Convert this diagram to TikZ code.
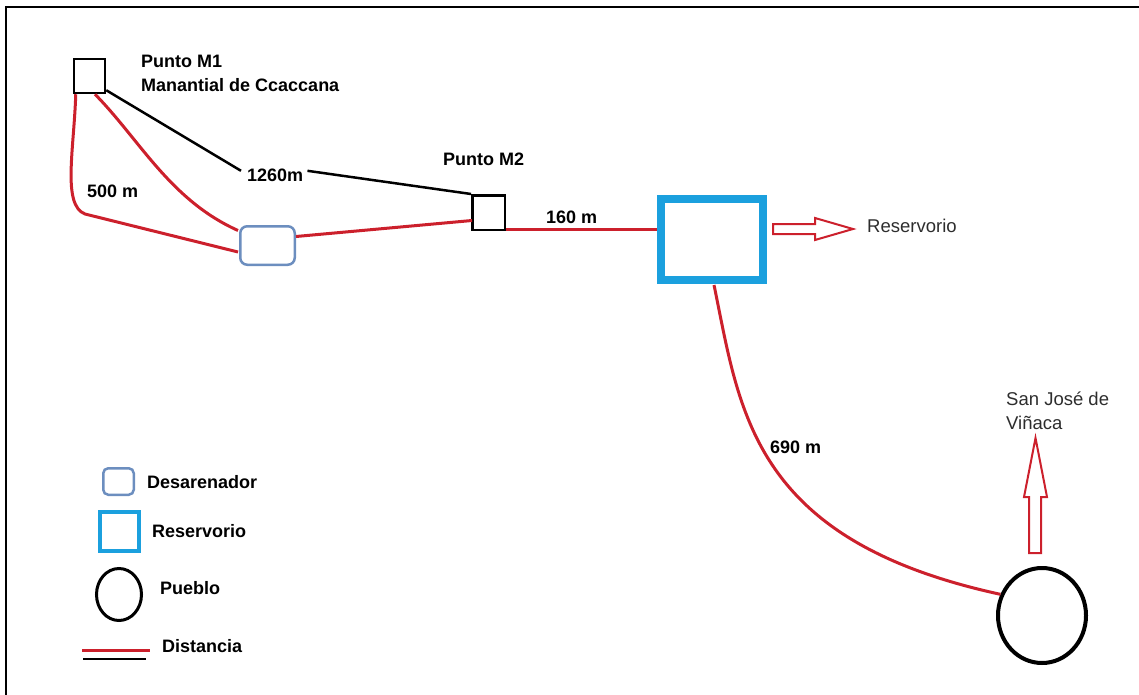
\documentclass[tikz,border=0pt]{standalone}
\usepackage{fontspec}
\setmainfont{Liberation Sans}
\usetikzlibrary{calc,shapes.geometric}
\definecolor{redc}{RGB}{204,32,44}
\definecolor{bluec}{RGB}{27,160,222}
\definecolor{desc}{RGB}{108,142,191}
\definecolor{graytext}{RGB}{45,45,45}
\begin{document}
\begin{tikzpicture}[x=1pt,y=-1pt,
  redline/.style={draw=redc,line width=3},
  blackline/.style={draw=black,line width=2.5},
  hollow/.style={draw=redc,line width=2,fill=white,line join=miter},
  pointbox/.style={draw=black,line width=2.5,inner sep=0},
  desbox/.style={draw=desc,line width=2.5,rounded corners=7,inner sep=0},
  resbox/.style={draw=bluec,inner sep=0},
  town/.style={draw=black,ellipse,inner sep=0},
  lbl/.style={font=\fontsize{18}{24}\selectfont\bfseries,inner sep=0},
  plain/.style={font=\fontsize{18.5}{24}\selectfont,text=graytext,inner sep=0}
]
\useasboundingbox (0,0) rectangle (1139,695);
% frame
\draw[line width=2] (6,695) -- (6,7) -- (1139,7);

% main nodes
\node[pointbox,minimum width=31,minimum height=34] (m1) at (89.5,76) {};
\node[pointbox,minimum width=32.5,minimum height=34.5] (m2) at (488.5,212.5) {};
\node[desbox,minimum width=54.5,minimum height=38.5] (des) at (267.5,245.5) {};
\node[resbox,line width=8,minimum width=102,minimum height=81] (res) at (712,239.5) {};
\node[town,line width=4,minimum width=88,minimum height=95] (pueblo) at (1042,615.5) {};

% labels
\node[lbl,anchor=north west,align=left] (m1lbl) at (141,55) {Punto M1\\Manantial de Ccaccana};
\node[lbl,anchor=base west] (m2lbl) at (443,166) {Punto M2};
\node[lbl,anchor=base west] (l1260) at (247,182) {1260m};
\node[lbl,anchor=base west] (l500) at (87,197) {500 m};
\node[lbl,anchor=base west] (l160) at (546,223) {160 m};
\node[lbl,anchor=base west] (l690) at (770,453) {690 m};
\node[plain,anchor=base west] (resname) at (867,232) {Reservorio};
\node[plain,anchor=north west,align=left] (townname) at (1006,392) {San José de\\Viñaca};

% black route
\draw[blackline] ($(m1.south east)+(0,-4)$) -- ($(l1260.west)+(-6,-5)$);
\draw[blackline] ($(l1260.east)+(4,-5)$) -- (m2.north west);

% red routes
\draw[redline] ($(m1.south)+(5.5,0)$) .. controls (140,140) and (170,200) .. ($(des.west)+(-1,-15)$);
\draw[redline] ($(m1.south west)+(3,0)$) .. controls (74,150) and (62,205) .. (85,214) -- ($(des.west)+(-1,6.5)$);
\draw[redline] ($(des.east)+(0,-9)$) -- ($(m2.west)+(1,8)$);
\draw[redline] ($(m2.south east)+(0,-2)$) -- ($(res.west)+(0,-10.5)$);
\draw[redline] ($(res.south)+(2,1)$) .. controls (740,410) and (750,540) .. (pueblo.153);

% hollow arrows
\draw[hollow] ($(res.east)+(6,-15.5)$) -- ++(42,0) -- ++(0,-6) -- ++(38,11) -- ++(-38,11) -- ++(0,-6) -- ++(-42,0) -- cycle;
\draw[hollow] ($(pueblo.north)+(-13,-13)$) -- ++(0,-56) -- ++(-5,0) -- ++(11.5,-59) -- ++(11.5,59) -- ++(-6,0) -- ++(0,56) -- cycle;

% legend
\node[desbox,rounded corners=5,minimum width=30.5,minimum height=26.5] (kdes) at (118.5,481.5) {};
\node[resbox,line width=4,minimum width=39,minimum height=39] (kres) at (119.5,531.5) {};
\node[town,line width=3,minimum width=45,minimum height=52] (kpue) at (119,594.5) {};
\coordinate (kr1) at (82,650);
\coordinate (kr2) at (150,650);
\coordinate (kb1) at (83,659);
\coordinate (kb2) at (146,659);
\draw[redline] (kr1) -- (kr2);
\draw[blackline] (kb1) -- (kb2);
\node[lbl,anchor=base west] (tdes) at (147,488) {Desarenador};
\node[lbl,anchor=base west] (tres) at (152,537) {Reservorio};
\node[lbl,anchor=base west] (tpue) at (160,594) {Pueblo};
\node[lbl,anchor=base west] (tdis) at (162,652) {Distancia};
\end{tikzpicture}
\end{document}
